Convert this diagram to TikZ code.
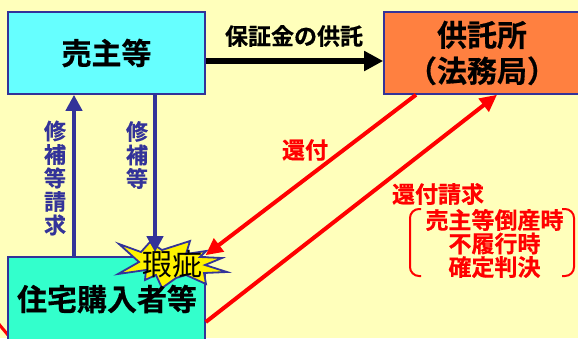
\documentclass[tikz,border=0pt]{standalone}
\usepackage{fontspec}
\setmainfont{Noto Sans CJK JP Bold}[FakeBold=0.5]
\newfontfamily\lightcjk{Noto Sans CJK JP}
\usetikzlibrary{arrows.meta}
\definecolor{bgc}{HTML}{FFFFBB}
\definecolor{bluec}{HTML}{333399}
\definecolor{cyanc}{HTML}{66FFFF}
\definecolor{orangec}{HTML}{FF8040}
\definecolor{tealc}{HTML}{33FFCC}
\newcommand{\fs}[2]{\fontsize{#1}{#2}\selectfont}
\tikzset{
  x=1pt,y=-1pt,
  boxn/.style={draw=bluec,line width=1.6pt,inner sep=0pt,minimum height=82pt,text=black,align=center},
  bigt/.style={font=\fs{30}{36}},
  lab/.style={inner sep=0pt,align=center},
  redt/.style={lab,text=red,font=\fs{23}{23.5}},
  vert/.style={lab,text=bluec,font=\fs{22}{23.5}},
  bluearrow/.style={draw=bluec,line width=4.5pt,-{Triangle[length=16pt,width=16pt]}},
  redarrow/.style={draw=red,line width=4pt,-{Triangle[length=17pt,width=16pt]}},
  blackarrow/.style={draw=black,line width=6pt,-{Triangle[length=19pt,width=19pt]}},
  bracket/.style={draw=red,line width=2pt,rounded corners=9pt},
}
\begin{document}
\begin{tikzpicture}
\useasboundingbox (0,0) rectangle (578,338);
\fill[bgc] (0,0) rectangle (578,338);
% short red line at lower left
\coordinate (stubA) at (-2,323);
\coordinate (stubB) at (8,335);
\draw[red,line width=3pt] (stubA) -- (stubB);
% boxes
\node[boxn,fill=cyanc,minimum width=197pt,bigt] (seller) at (106.5,53) {売主等};
\node[boxn,fill=orangec,minimum width=196pt,bigt] (office) at (482,53) {供託所\\（法務局）};
\node[boxn,fill=tealc,minimum width=197pt,minimum height=90pt] (buyer) at (106.5,302) {};
% starburst
\draw[fill=yellow,draw=bluec,line width=1.8pt,line join=miter]
  (119,244) -- (141,252) -- (150,242) -- (162,250) -- (190,241) -- (186,254) -- (206,251)
  -- (200,257) -- (222,258) -- (205,265) -- (227,272) -- (204,273) -- (206,284)
  -- (186,275) -- (176,278) -- (162,288) -- (156,275) -- (145,280) -- (146,270)
  -- (118,274) -- (139,262) -- cycle;
% connectors
\draw[blackarrow] ([yshift=-8pt]seller.east) -- ([yshift=-8pt]office.west);
\draw[bluearrow] ([xshift=-32.5pt]buyer.north) -- ([xshift=-32.5pt]seller.south);
\draw[bluearrow] ([xshift=48.5pt]seller.south) -- ([xshift=48.5pt,yshift=4pt]buyer.north);
\draw[redarrow] ([xshift=-66pt]office.south) -- ([xshift=99pt,yshift=1pt]buyer.north);
\draw[redarrow] ([yshift=-20pt]buyer.east) -- ([xshift=15pt]office.south);
% texts
\node[lab,font=\fs{30}{36}] (buyertext) at (107,299) {住宅購入者等};
\node[lab,font=\lightcjk\fs{30}{30}] (flaw) at (172,264) {瑕疵};
\node[lab,font=\fs{23}{23}] (deposit) at (294,36) {保証金の供託};
\node[vert] (req1) at (55,178) {修\\補\\等\\請\\求};
\node[vert] (req2) at (137,155) {修\\補\\等};
\node[redt] (ret) at (305,150) {還付};
\node[redt] (retreq) at (438,194) {還付請求};
\node[redt] (cond) at (494.5,243.5) {売主等倒産時\\不履行時\\確定判決};
\coordinate (la) at (421,209); \coordinate (lb) at (410,209);
\coordinate (lc) at (410,276); \coordinate (ld) at (421,276);
\coordinate (ra) at (562,209); \coordinate (rb) at (574,209);
\coordinate (rc) at (574,276); \coordinate (rd) at (562,276);
\draw[bracket] (la) -- (lb) -- (lc) -- (ld);
\draw[bracket] (ra) -- (rb) -- (rc) -- (rd);
\end{tikzpicture}
\end{document}
